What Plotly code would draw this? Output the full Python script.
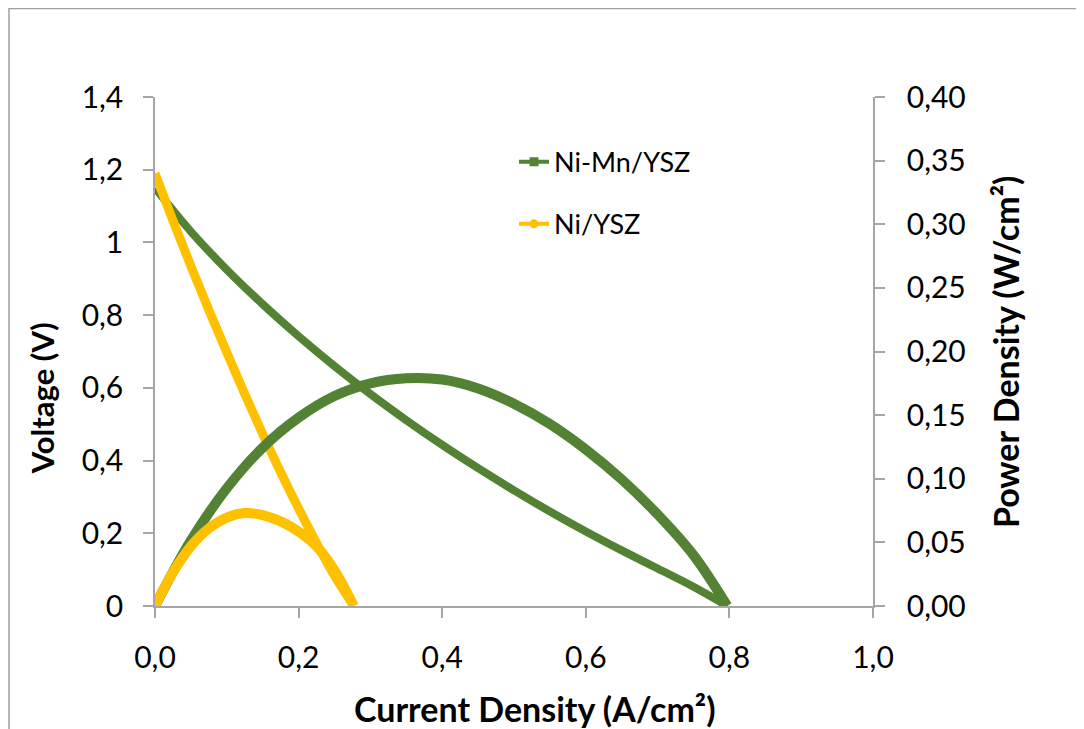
import plotly.graph_objects as go

# ---- data ----
nimn_current = [0, 0.05, 0.1, 0.15, 0.2, 0.25, 0.3, 0.35, 0.4, 0.45, 0.5, 0.55, 0.6, 0.65, 0.7, 0.75, 0.797]
nimn_voltage = [1.15, 1.03, 0.925, 0.83, 0.742, 0.66, 0.583, 0.511, 0.443, 0.379, 0.318, 0.26, 0.205, 0.153, 0.103, 0.053, 0]
nimn_power = [0, 0.0515, 0.0925, 0.1245, 0.148, 0.165, 0.175, 0.179, 0.178, 0.171, 0.159, 0.143, 0.123, 0.0995, 0.072, 0.040, 0]

ni_current = [0, 0.025, 0.05, 0.075, 0.1, 0.125, 0.15, 0.175, 0.2, 0.225, 0.25, 0.277]
ni_voltage = [1.19, 1.06, 0.935, 0.814, 0.697, 0.583, 0.473, 0.368, 0.268, 0.173, 0.083, 0]
ni_power = [0, 0.0265, 0.047, 0.061, 0.0695, 0.073, 0.0715, 0.0665, 0.0585, 0.047, 0.028, 0]

x_ticks = [0, 0.2, 0.4, 0.6, 0.8, 1.0]
series_names = ["Ni-Mn/YSZ", "Ni/YSZ"]

GREEN = "#548235"
YELLOW = "#FFC000"
AXIS = "#A6A6A6"
FONT = "Lato"

fig = go.Figure()

# primary axis: voltage
fig.add_trace(go.Scatter(x=nimn_current, y=nimn_voltage, mode="lines",
                         line=dict(color=GREEN, width=8, shape="spline", smoothing=1.0),
                         showlegend=False, hoverinfo="skip"))
fig.add_trace(go.Scatter(x=ni_current, y=ni_voltage, mode="lines",
                         line=dict(color=YELLOW, width=9, shape="spline", smoothing=1.0),
                         showlegend=False, hoverinfo="skip"))
# secondary axis: power
fig.add_trace(go.Scatter(x=nimn_current, y=nimn_power, mode="lines", yaxis="y2",
                         line=dict(color=GREEN, width=10, shape="spline", smoothing=1.0),
                         showlegend=False, hoverinfo="skip"))
fig.add_trace(go.Scatter(x=ni_current, y=ni_power, mode="lines", yaxis="y2",
                         line=dict(color=YELLOW, width=10, shape="spline", smoothing=1.0),
                         showlegend=False, hoverinfo="skip"))

# legend entries
fig.add_trace(go.Scatter(x=[None], y=[None], mode="lines+markers", name=series_names[0],
                         legendgroup="a",
                         line=dict(color=GREEN, width=4),
                         marker=dict(symbol="square", size=9, color=GREEN)))
fig.add_trace(go.Scatter(x=[None], y=[None], mode="lines+markers", name=series_names[1],
                         legendgroup="b",
                         line=dict(color=YELLOW, width=4),
                         marker=dict(symbol="circle", size=9, color=YELLOW)))

tickfont = dict(family=FONT, size=30, color="#000000")
titlefont = dict(family=FONT, size=34, color="#000000", weight="bold")
ytitlefont = dict(family=FONT, size=31, color="#000000", weight="bold")

fig.update_layout(
    width=1084, height=729,
    margin=dict(l=147, r=219, t=89, b=131),
    paper_bgcolor="white", plot_bgcolor="white",
    separators=",.",
    showlegend=True,
    legend=dict(x=0.50, y=0.92, xanchor="left", yanchor="top",
                font=dict(family=FONT, size=27, color="#000000"),
                traceorder="grouped", tracegroupgap=24,
                bgcolor="rgba(0,0,0,0)"),
    xaxis=dict(range=[0, 1.0], tickvals=x_ticks, tickformat=".1f",
               showgrid=False, zeroline=False,
               showline=True, linecolor=AXIS, linewidth=1.5,
               ticks="outside", ticklen=10, tickcolor=AXIS, tickwidth=1.5,
               tickfont=tickfont, ticklabelstandoff=14),
    yaxis=dict(range=[0, 1.4], dtick=0.2, tick0=0,
               showgrid=False, zeroline=False,
               showline=True, linecolor=AXIS, linewidth=1.5,
               ticks="outside", ticklen=10, tickcolor=AXIS, tickwidth=1.5,
               tickfont=tickfont, ticklabelstandoff=14),
    yaxis2=dict(range=[0, 0.40], dtick=0.05, tick0=0, tickformat=".2f",
                overlaying="y", side="right",
                showgrid=False, zeroline=False,
                showline=True, linecolor=AXIS, linewidth=1.5,
                ticks="outside", ticklen=10, tickcolor=AXIS, tickwidth=1.5,
                tickfont=tickfont, ticklabelstandoff=16),
)

# axis titles
fig.add_annotation(text="Current Density (A/cm²)", xref="paper", yref="paper",
                   x=0.529, y=-0.2004, xanchor="center", yanchor="middle",
                   showarrow=False, font=titlefont)
fig.add_annotation(text="Voltage (V)", xref="paper", yref="paper",
                   x=-0.157, y=0.4086, xanchor="center", yanchor="middle",
                   textangle=-90, showarrow=False, font=ytitlefont)
fig.add_annotation(text="Power Density (W/cm²)", xref="paper", yref="paper",
                   x=1.184, y=0.499, xanchor="center", yanchor="middle",
                   textangle=-90, showarrow=False, font=titlefont)

# chart-area border (div starts 8px into the page)
fig.add_shape(type="rect", xref="paper", yref="paper",
              x0=-146 / 718, x1=1.40, y0=-0.30, y1=1 + 88.5 / 509,
              line=dict(color="#A0A0A0", width=1.5), fillcolor="rgba(0,0,0,0)",
              layer="below")

fig.write_html("out.html")
